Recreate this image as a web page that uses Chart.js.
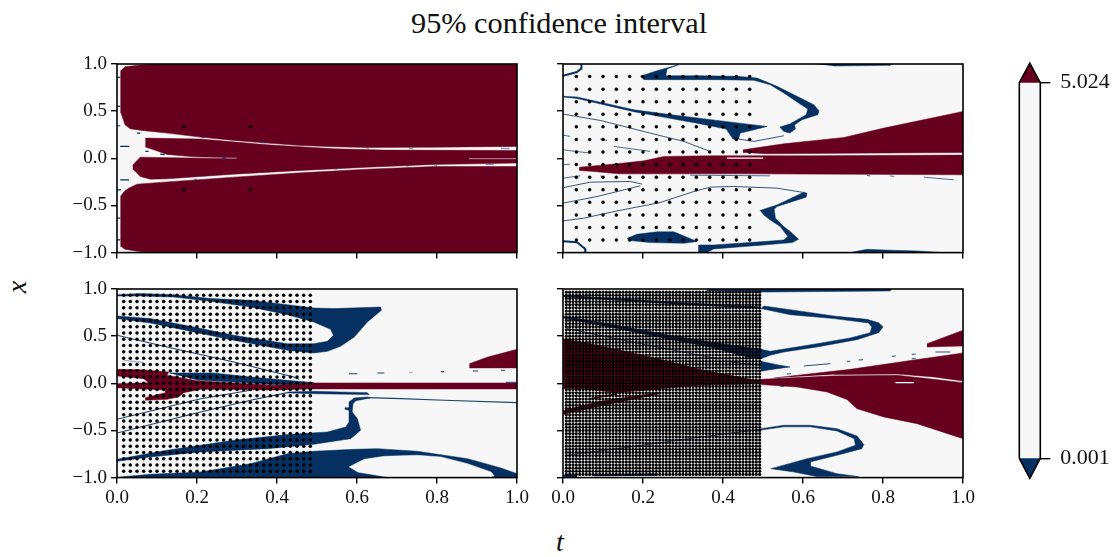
<!DOCTYPE html>
<html>
<head>
<meta charset="utf-8">
<title>95% confidence interval</title>
<script src="https://cdn.jsdelivr.net/npm/chart.js@4"></script>
<style>
  body { margin: 0; background: #fff; width: 1119px; height: 557px; overflow: hidden; position: relative; }
  canvas { position: absolute; }
  .txt { position: absolute; font-family: "Liberation Serif", serif; color: #111; white-space: nowrap; }
  #title { left: 411px; top: 6px; font-size: 30.3px; }
  #tlabel { left: 556px; top: 526px; font-size: 28px; font-style: italic; }
  #xlabel { left: 11px; top: 271px; font-size: 28px; font-style: italic; transform: rotate(-90deg); }
</style>
</head>
<body>
<div class="txt" id="title">95% confidence interval</div>
<div class="txt" id="tlabel">t</div>
<div class="txt" id="xlabel">x</div>
<canvas id="p1" width="470" height="227" style="left:60.7px;top:56.4px"></canvas>
<canvas id="p2" width="470" height="227" style="left:506.7px;top:56.4px"></canvas>
<canvas id="p3" width="470" height="227" style="left:60.7px;top:280.7px"></canvas>
<canvas id="p4" width="470" height="227" style="left:506.7px;top:280.7px"></canvas>
<canvas id="cb" width="119" height="440" style="left:1000px;top:50px"></canvas>
<script>
const MAROON = '#67001f', NAVY = '#053061', PALE = '#f7f7f7';

const xTickLabels = ['\u22121.0', '\u22120.5', '0.0', '0.5', '1.0'];
const tTickLabels = ['0.0', '0.2', '0.4', '0.6', '0.8', '1.0'];
const cbTickValues = [0.001, 5.024];
const cbTickLabels = ['0.001', '5.024'];

// ---- top left
const p1Upper = [[.1,1],[.058,.99],[.02,.97],[.01,.93],[.01,.48],[.02,.355],[.033,.313],[.0625,.296],[.125,.267],[.208,.225],[.292,.19],[.375,.161],[.459,.136],[.543,.122],[.626,.115],[.793,.118],[1,.126],[1,1]];
const p1Middle = [[.071,.214],[.209,.204],[.376,.143],[.543,.101],[.668,.087],[1,.083],[1,-.051],[.793,-.065],[.626,-.094],[.459,-.129],[.292,-.168],[.125,-.218],[.083,-.221],[.058,-.193],[.042,-.122],[.04,-.069],[.058,.012],[.3,-.005],[.3,.005],[.192,.016],[.125,.041],[.092,.09],[.071,.119]];
const p1Lower = [[1,-.087],[.793,-.087],[.626,-.115],[.459,-.154],[.292,-.2],[.125,-.25],[.05,-.274],[.029,-.317],[.018,-.352],[.01,-.398],[.01,-.936],[.02,-.965],[.058,-.99],[.1,-.996],[.1,-1],[1,-1]];
const p1Strong = [[.008,.126],[.031,.126],[null,null],[.008,-.228],[.03,-.228],[null,null],[0,-.335],[.01,-.335],[null,null],[0,.858],[.008,.858],[null,null],[0,.55],[.008,.55],[null,null],[0,.345],[.008,.345],[null,null],[0,-.635],[.008,-.635],[null,null],[0,-.865],[.008,-.865],[null,null],[.05,.267],[.058,.267],[null,null],[.071,.073],[.079,.073],[null,null],[.108,.044],[.119,.04],[null,null],[.263,.002],[.272,.002]];
const p1Faint = [[.209,.222],[.219,.219],[null,null],[.359,.168],[.371,.168],[null,null],[.622,.108],[.63,.108],[null,null],[.73,.104],[.74,.104],[null,null],[.96,.104],[.981,.104],[null,null],[.543,-.115],[.551,-.115],[null,null],[.722,-.083],[.73,-.083],[null,null],[.793,-.076],[.8,-.076],[null,null],[.922,-.065],[.942,-.065],[null,null],[.192,-.225],[.2,-.225]];
const p1Streak = [[.88,-.004],[1,-.004]];
const p1DotT = [.1667, .3333];
const p1DotX = [-.3333, .3333];

// ---- top right
const p2Wedge = [[.45,.09],[.552,.154],[.702,.221],[.802,.32],[1,.497],[1,.062],[.51,.048],[.45,.062]];
const p2Central = [[1,.034],[.618,.027],[.368,.027],[.252,.02],[.202,-.027],[.135,-.058],[.042,-.094],[.042,-.13],[.077,-.14],[.139,-.165],[.468,-.165],[1,-.175]];
const p2Streak = [[.41,.002],[.5,.002]];
const p2Rib = [[.193,.869],[.235,.929],[.289,.993],[.26,.947],[.257,.876],[.343,.876],[.435,.869],[.485,.851],[.535,.763],[.585,.657],[.627,.568],[.64,.504],[.637,.462],[.598,.409],[.579,.356],[.581,.31],[.567,.267],[.552,.285],[.542,.331],[.568,.366],[.608,.462],[.612,.522],[.589,.586],[.552,.692],[.518,.781],[.477,.827],[.385,.834],[.26,.834],[.202,.834]];
const p2Band = [[0,.657],[.035,.65],[.177,.515],[.277,.458],[.385,.402],[.51,.338],[.468,.292],[.443,.267],[.439,.204],[.425,.204],[.408,.31],[.335,.373],[.277,.416],[.177,.494],[.035,.635],[0,.65]];
const p2Rib2 = [[.492,-.554],[.535,-.494],[.602,-.359],[.61,-.37],[.608,-.412],[.535,-.511],[.528,-.54],[.531,-.635],[.552,-.724],[.568,-.777],[.589,-.858],[.573,-.894],[.502,-.919],[.377,-.961],[.36,-1],[.339,-1],[.339,-.919],[.377,-.919],[.502,-.883],[.552,-.866],[.562,-.83],[.543,-.724],[.518,-.653],[.502,-.6]];
const p2Blob = [[.16,-.848],[.185,-.805],[.235,-.78],[.277,-.78],[.31,-.837],[.335,-.883],[.302,-.901],[.218,-.894],[.168,-.873]];
const p2TopBar = [[.631,1],[.818,1],[.818,.986],[.677,.979]];
const p2BottomBar = [[.718,-1],[.76,-.965],[.802,-.972],[.885,-.982],[.948,-1]];
const p2Thick = [[0,.876],[.035,.915],[.045,.95],[.046,1],[null,null],[0,-.88],[.035,-.89],[.055,-.96],[.056,-.995]];
const p2Thin = [[0,.469],[.093,.402],[.218,.267],[.302,.179],[.368,.073],[null,null],[.439,.204],[.477,.179],[.552,.239],[null,null],[.002,-.31],[.068,-.253],[.168,-.246],[.198,-.274],[null,null],[0,-.476],[.085,-.405],[.193,-.292],[null,null],[0,-.664],[.052,-.635],[.135,-.558],[.243,-.469],[.327,-.352],[.368,-.306],[.427,-.299],[.535,-.317],[.602,-.363]];
const p2Dashes = [[0,.246],[.018,.232],[null,null],[.093,.204],[.11,.189],[null,null],[0,.09],[.068,.055],[null,null],[.127,.126],[.218,.073],[null,null],[0,-.069],[.018,-.062],[null,null],[0,-.21],[.043,-.186],[null,null],[.093,-.186],[.102,-.2],[null,null],[.318,-.179],[.518,-.186],[null,null],[.76,-.182],[.768,-.186],[null,null],[.818,-.186],[.828,-.193],[null,null],[.902,-.2],[.977,-.228]];
const p2DotT = [.0333,.0667,.1,.1333,.1667,.2,.2333,.2667,.3,.3333,.3667,.4,.4333,.4667];
const p2DotX = [-.8667,-.7333,-.6,-.4667,-.3333,-.2,-.0667,.0667,.2,.3333,.4667,.6,.7333,.8667];

// ---- bottom left
const p3Fork = [[0,.94],[.058,.951],[.142,.94],[.234,.898],[.334,.88],[.426,.834],[.492,.799],[.543,.792],[.659,.809],[.661,.774],[.626,.65],[.593,.491],[.559,.392],[.526,.339],[.492,.322],[.426,.35],[.292,.456],[.192,.544],[.083,.64],[0,.686],[0,.714],[.083,.686],[.192,.597],[.292,.509],[.426,.42],[.492,.42],[.526,.445],[.541,.509],[.534,.572],[.492,.65],[.426,.728],[.334,.809],[.234,.869],[.142,.915],[.058,.926],[0,.926]];
const p3Mid = [[.129,.11],[.242,.11],[.334,.067],[.426,.032],[.492,.007],[.476,-.021],[.392,-.014],[.292,.014],[.2,.035]];
const p3Maroon = [[0,.148],[.058,.145],[.129,.12],[.125,.085],[.2,.028],[.292,.004],[.392,-.021],[.476,-.004],[.476,-.06],[.392,-.071],[.292,-.067],[.209,-.064],[.167,-.099],[.154,-.145],[.125,-.17],[.071,-.18],[.071,-.152],[.121,-.099],[.121,-.071],[.008,-.049],[0,-.049],[0,-.004],[.079,.007],[.067,.049],[0,.078]];
const p3Strip = [[.476,.004],[1,.004],[1,-.06],[.476,-.06]];
const p3Wedge = [[.881,.208],[.927,.279],[1,.36],[1,.163],[.881,.163]];
const p3Sliver = [[.426,-.092],[.492,-.085],[.626,-.099],[.63,-.12],[.492,-.11],[.426,-.102]];
const p3Band = [[0,-.806],[.125,-.71],[.292,-.604],[.426,-.544],[.526,-.516],[.572,-.463],[.58,-.41],[.58,-.286],[.57,-.276],[.57,-.258],[.58,-.258],[.58,-.198],[.593,-.155],[.626,-.145],[.634,-.155],[.597,-.184],[.59,-.216],[.588,-.304],[.601,-.375],[.609,-.498],[.584,-.587],[.492,-.647],[.376,-.693],[.209,-.728],[.083,-.781],[0,-.827]];
const p3Bottom = [[.008,-.993],[.083,-.965],[.209,-.94],[.334,-.852],[.426,-.746],[.492,-.721],[.593,-.7],[.651,-.693],[.751,-.721],[.876,-.799],[.96,-.898],[1,-.958],[1,-1],[.008,-1]];
const p3Hole = [[.58,-.887],[.618,-.806],[.668,-.774],[.751,-.763],[.81,-.781],[.876,-.852],[.935,-.94],[.943,-.982],[.935,-.993],[.676,-.993],[.601,-.94]];
const p3Thin = [[0,.509],[.125,.385],[.292,.226],[.442,.067],[.455,.042],[null,null],[0,-.527],[.209,-.304],[.334,-.18],[.426,-.099],[null,null],[0,-.382],[.125,-.251],[.209,-.163],[.334,-.074],[null,null],[.626,-.152],[.71,-.163],[.818,-.18],[1,-.205],[null,null],[.58,.102],[.601,.102],[null,null],[.651,.11],[.668,.11],[null,null],[.81,.124],[.818,.124],[null,null],[.889,.13],[.902,.13],[null,null],[.96,.138],[.97,.138],[null,null],[.972,.011],[1,.011]];
const p3Faint = [[.017,.244],[.067,.219],[null,null],[.73,.117],[.739,.117]];
const p3DotT = [.0167,.0333,.05,.0667,.0833,.1,.1167,.1333,.15,.1667,.1833,.2,.2167,.2333,.25,.2667,.2833,.3,.3167,.3333,.35,.3667,.3833,.4,.4167,.4333,.45,.4667,.4833];
const p3DotX = [-.9333,-.8667,-.8,-.7333,-.6667,-.6,-.5333,-.4667,-.4,-.3333,-.2667,-.2,-.1333,-.0667,0,.0667,.1333,.2,.2667,.3333,.4,.4667,.5333,.6,.6667,.7333,.8,.8667,.9333];

// ---- bottom right
const p4Left = [[0,.473],[.068,.42],[.202,.297],[.335,.155],[.495,.021],[.495,-.004],[.343,-.021],[.202,-.074],[.135,-.099],[.052,-.057],[0,-.057]];
const p4RightUp = [[.527,.057],[.718,.148],[.843,.226],[1,.322],[1,.025],[.927,.067],[.835,.099],[.677,.092]];
const p4RightLow = [[.495,.042],[.668,.078],[.835,.085],[.927,.042],[1,.007],[1,-.587],[.885,-.428],[.802,-.357],[.735,-.269],[.71,-.173],[.66,-.092],[.585,-.039],[.495,-.014]];
const p4Wedge = [[.91,.42],[1,.562],[1,.396],[.91,.385]];
const p4Streak = [[0,-.286],[0,-.332],[.093,-.24],[.243,-.11],[.235,-.099],[.093,-.191]];
const p4Streak2 = [[.068,-.163],[.135,-.11]];
const p4White = [[.831,.007],[.877,.007]];
const p4TopBar = [[.36,1],[.818,1],[.818,.979],[.51,.968],[.36,.982]];
const p4Arc = [[.502,.82],[.568,.781],[.677,.714],[.76,.678],[.789,.643],[.8,.597],[.789,.537],[.735,.463],[.635,.385],[.552,.332],[.518,.297],[.495,.261],[.495,.36],[.518,.339],[.635,.42],[.718,.481],[.768,.537],[.772,.597],[.764,.64],[.677,.686],[.568,.728],[.495,.792]];
const p4Band = [[0,.714],[.135,.615],[.26,.516],[.368,.438],[.495,.36],[.495,.261],[.46,.279],[.368,.385],[.26,.473],[.135,.58],[0,.693]];
const p4Piece = [[.495,.233],[.535,.198],[.568,.173],[.518,.145],[.495,.127]];
const p4Lower = [[.495,-.481],[.552,-.445],[.618,-.445],[.685,-.481],[.735,-.558],[.752,-.65],[.747,-.693],[.685,-.763],[.618,-.834],[.618,-.876],[.685,-.958],[.739,-.989],[.635,-.989],[.577,-.94],[.52,-.905],[.61,-.799],[.685,-.728],[.731,-.657],[.728,-.587],[.685,-.505],[.618,-.462],[.552,-.462],[.495,-.496]];
const p4Thick = [[0,.926],[.135,.89],[.302,.845],[.495,.802],[null,null],[.077,-.975],[.235,-.968],[null,null],[0,-.982],[.035,-.982]];
const p4Thin = [[.402,.233],[.495,.191],[null,null],[.01,-.763],[.168,-.675],[.327,-.58],[.495,-.488],[null,null],[.01,.58],[.16,.449],[.385,.261],[null,null],[.602,.184],[.668,.208],[null,null],[.71,.233],[.718,.233],[null,null],[.739,.247],[.75,.25],[null,null],[.822,.286],[.832,.29],[null,null],[.872,.307],[.882,.31],[null,null],[.931,.332],[.968,.332],[null,null],[.872,.261],[.882,.261],[null,null],[.56,.099],[.57,.102],[null,null],[.535,.05],[.545,.05],[null,null],[.543,-.032],[.553,-.032]];
const p4DotT = [.0083,.0167,.025,.0333,.0417,.05,.0583,.0667,.075,.0833,.0917,.1,.1083,.1167,.125,.1333,.1417,.15,.1583,.1667,.175,.1833,.1917,.2,.2083,.2167,.225,.2333,.2417,.25,.2583,.2667,.275,.2833,.2917,.3,.3083,.3167,.325,.3333,.3417,.35,.3583,.3667,.375,.3833,.3917,.4,.4083,.4167,.425,.4333,.4417,.45,.4583,.4667,.475,.4833,.4917];
const p4DotX = [-.9667,-.9333,-.9,-.8667,-.8333,-.8,-.7667,-.7333,-.7,-.6667,-.6333,-.6,-.5667,-.5333,-.5,-.4667,-.4333,-.4,-.3667,-.3333,-.3,-.2667,-.2333,-.2,-.1667,-.1333,-.1,-.0667,-.0333,0,.0333,.0667,.1,.1333,.1667,.2,.2333,.2667,.3,.3333,.3667,.4,.4333,.4667,.5,.5333,.5667,.6,.6333,.6667,.7,.7333,.7667,.8,.8333,.8667,.9,.9333,.9667];

// ---- colour bar
const cbBar = [[0,.001],[1,.001],[1,5.024],[0,5.024]];
const cbTop = [[0,5.024],[.5,5.283],[1,5.024]];
const cbBottom = [[0,.001],[.5,-.266],[1,.001]];
const cbOutline = [[0,.001],[.5,-.266],[1,.001],[1,5.024],[.5,5.283],[0,5.024],[0,.001]];

const toPoints = arr => arr.map(p => ({x: p[0], y: p[1]}));
const shape = (pts, color) => ({data: toPoints(pts), showLine: true, fill: 'shape', backgroundColor: color, borderColor: color, borderWidth: 0.5, pointRadius: 0});
const stroke = (pts, color, width) => ({data: toPoints(pts), showLine: true, fill: false, borderColor: color, borderWidth: width, pointRadius: 0});
const dots = (ts, xs, r) => ({data: ts.flatMap(t => xs.map(x => ({x: t, y: x}))), showLine: false, pointRadius: r, pointBorderWidth: 0, pointBackgroundColor: '#000'});

// tick labels must not push the plot area around
const noPad = s => { s.paddingTop = s.paddingBottom = s.paddingLeft = s.paddingRight = 0; };

// frame round the plot area, matplotlib style
const frame = {
  id: 'frame',
  afterDraw(chart) {
    const {ctx, chartArea: a} = chart;
    ctx.save();
    ctx.strokeStyle = '#000';
    ctx.lineWidth = 1.6;
    ctx.strokeRect(a.left, a.top, a.right - a.left, a.bottom - a.top);
    ctx.restore();
  }
};

function panel(id, sets, showT, showX) {
  // first in the list is painted first
  sets.forEach((s, i) => { s.order = -i; });
  new Chart(document.getElementById(id), {
    type: 'scatter',
    data: {datasets: sets},
    plugins: [frame],
    options: {
      responsive: false,
      animation: false,
      events: [],
      layout: {padding: {top: 8, right: 14, left: 0, bottom: 0}},
      plugins: {legend: {display: false}, tooltip: {enabled: false}},
      scales: {
        x: {
          type: 'linear', min: 0, max: 1,
          afterFit: s => { s.height = 30.4; noPad(s); },
          border: {display: false},
          grid: {drawOnChartArea: false, color: '#000', tickColor: '#000', tickLength: 6, lineWidth: 1.4},
          ticks: {stepSize: 0.2, display: showT, maxRotation: 0, autoSkip: false, color: '#111', padding: 3, font: {family: 'Liberation Serif', size: 19}, callback: (v, i) => tTickLabels[i]}
        },
        y: {
          type: 'linear', min: -1, max: 1,
          afterFit: s => { s.width = 56; noPad(s); },
          border: {display: false},
          grid: {drawOnChartArea: false, color: '#000', tickColor: '#000', tickLength: 6, lineWidth: 1.4},
          ticks: {stepSize: 0.5, display: showX, autoSkip: false, color: '#111', padding: 4, font: {family: 'Liberation Serif', size: 19}, callback: (v, i) => xTickLabels[i]}
        }
      }
    }
  });
}

const bg = () => [[0,1],[1,1],[1,-1],[0,-1]];

panel('p1', [
  shape(bg(), PALE),
  shape(p1Upper, MAROON), shape(p1Middle, MAROON), shape(p1Lower, MAROON),
  stroke(p1Streak, 'rgba(255,255,255,.55)', 1),
  stroke(p1Strong, NAVY, 1.2),
  stroke(p1Faint, 'rgba(5,48,97,.45)', 1.4),
  dots(p1DotT, p1DotX, 1.7)
], false, true);

panel('p2', [
  shape(bg(), PALE),
  shape(p2Wedge, MAROON), shape(p2Central, MAROON),
  stroke(p2Streak, '#fff', 1.2),
  shape(p2Rib, NAVY), shape(p2Band, NAVY), shape(p2Rib2, NAVY), shape(p2Blob, NAVY), shape(p2TopBar, NAVY), shape(p2BottomBar, NAVY),
  stroke(p2Thick, NAVY, 2),
  stroke(p2Thin, 'rgba(5,48,97,.8)', 1),
  stroke(p2Dashes, 'rgba(5,48,97,.7)', 1),
  dots(p2DotT, p2DotX, 1.75)
], false, false);

panel('p3', [
  shape(bg(), PALE),
  shape(p3Wedge, MAROON),
  shape(p3Fork, NAVY), shape(p3Mid, NAVY), shape(p3Sliver, NAVY), shape(p3Band, NAVY), shape(p3Bottom, NAVY), shape(p3Hole, PALE),
  shape(p3Maroon, MAROON), shape(p3Strip, MAROON),
  stroke(p3Thin, 'rgba(5,48,97,.9)', 1.1),
  stroke(p3Faint, 'rgba(5,48,97,.4)', 1.1),
  dots(p3DotT, p3DotX, 1.75)
], true, true);

panel('p4', [
  shape(bg(), PALE),
  shape(p4Left, MAROON), shape(p4RightUp, MAROON), shape(p4RightLow, MAROON), shape(p4Wedge, MAROON), shape(p4Streak, MAROON),
  stroke(p4Streak2, MAROON, 1.5),
  stroke(p4White, '#fff', 1.2),
  shape(p4TopBar, NAVY), shape(p4Arc, NAVY), shape(p4Band, NAVY), shape(p4Piece, NAVY), shape(p4Lower, NAVY),
  stroke(p4Thick, NAVY, 2.2),
  stroke(p4Thin, 'rgba(5,48,97,.85)', 1),
  dots(p4DotT, p4DotX, 1.6)
], true, false);

// colour bar, with the over/under arrows beyond the tick range
const cbSets = [
  shape(cbBar, PALE), shape(cbTop, MAROON), shape(cbBottom, NAVY),
  stroke(cbOutline, '#000', 1.6)
];
cbSets.forEach((s, i) => { s.order = -i; s.clip = false; });
new Chart(document.getElementById('cb'), {
  type: 'scatter',
  data: {datasets: cbSets},
  options: {
    responsive: false,
    animation: false,
    events: [],
    layout: {padding: {left: 19.3, top: 13.3, bottom: 11.7, right: 0}},
    plugins: {legend: {display: false}, tooltip: {enabled: false}},
    scales: {
      x: {type: 'linear', min: 0, max: 1, display: false},
      y: {
        type: 'linear', position: 'right', min: -.266, max: 5.283,
        afterFit: s => { s.width = 78.7; noPad(s); },
        afterBuildTicks: s => { s.ticks = cbTickValues.map(v => ({value: v})); },
        border: {display: false},
        grid: {drawOnChartArea: false, color: '#000', tickColor: '#000', tickLength: 10, lineWidth: 1.4},
        ticks: {autoSkip: false, color: '#111', padding: 10, font: {family: 'Liberation Serif', size: 22}, callback: (v, i) => cbTickLabels[i]}
      }
    }
  }
});
</script>
</body>
</html>
